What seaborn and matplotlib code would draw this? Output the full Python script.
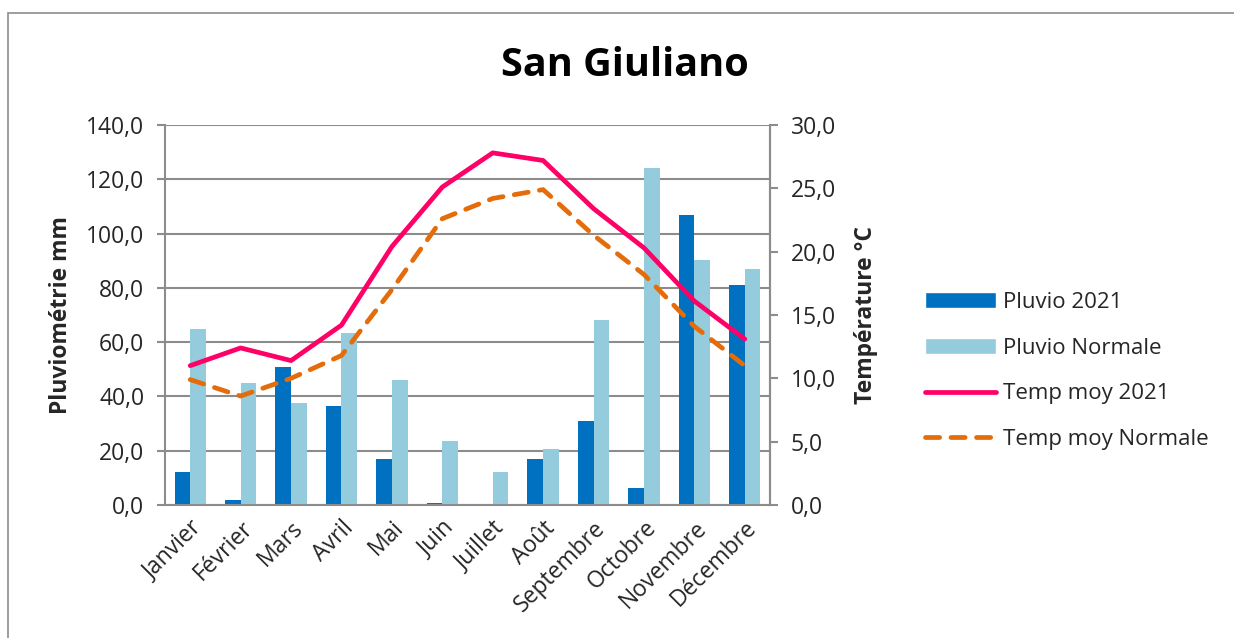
import numpy as np
import pandas as pd
import matplotlib
matplotlib.use("Agg")
import matplotlib.pyplot as plt
import seaborn as sns
from matplotlib.ticker import FuncFormatter, FixedLocator
from matplotlib.patches import Rectangle
from matplotlib.lines import Line2D
from matplotlib.patches import Patch

months = ["Janvier", "Février", "Mars", "Avril", "Mai", "Juin", "Juillet",
          "Août", "Septembre", "Octobre", "Novembre", "Décembre"]
pluvio_2021 = [12.0, 1.8, 50.9, 36.4, 16.8, 0.6, 0.0, 16.8, 30.8, 6.4, 107.0, 81.2]
pluvio_normale = [65.0, 44.8, 37.4, 63.2, 46.0, 23.7, 12.3, 20.5, 68.0, 124.3, 90.2, 87.0]
temp_2021 = [11.0, 12.4, 11.4, 14.2, 20.4, 25.1, 27.8, 27.2, 23.4, 20.3, 16.1, 13.1]
temp_normale = [9.9, 8.6, 10.0, 11.8, 17.0, 22.6, 24.2, 24.9, 21.3, 18.2, 14.1, 11.0]
series_labels = ["Pluvio 2021", "Pluvio Normale", "Temp moy 2021", "Temp moy Normale"]

sns.set_style("white")
plt.rcParams['font.family'] = ['Open Sans', 'DejaVu Sans']

C_DARK = "#0070C0"
C_LIGHT = "#94CCDE"
C_PINK = "#FF0066"
C_ORANGE = "#E46C0A"
GRID = "#8C8C8C"
FS = 16.5
LW = 3.4
DASH = (0, (3.0, 2.4))

df = pd.DataFrame({
    "mois": months * 2,
    "pluvio": pluvio_2021 + pluvio_normale,
    "serie": [series_labels[0]] * 12 + [series_labels[1]] * 12,
})

fig = plt.figure(figsize=(12.34, 6.38), dpi=100)
fig.patch.set_facecolor("white")
ax = fig.add_axes([165 / 1234, 1 - 505 / 638, (770 - 165) / 1234, (505 - 125) / 638])

sns.barplot(data=df, x="mois", y="pluvio", hue="serie", order=months,
            palette=[C_DARK, C_LIGHT], width=0.62, ax=ax, legend=False,
            edgecolor="none", saturation=1)
ax.set_ylim(0, 140)
ax.set_xlim(-0.5, 11.5)
ax.yaxis.set_major_locator(FixedLocator(np.arange(0, 141, 20)))
fmt = FuncFormatter(lambda v, p: f"{v:.1f}".replace(".", ","))
ax.yaxis.set_major_formatter(fmt)
ax.grid(axis="y", color=GRID, lw=1.5)
ax.set_axisbelow(True)
ax.spines["top"].set_visible(False)
for s in ["left", "bottom", "right"]:
    ax.spines[s].set_color(GRID)
    ax.spines[s].set_linewidth(1.5)
ax.tick_params(axis="y", direction="out", length=6, width=1.5, color=GRID,
               labelsize=FS, pad=9, left=True)
ax.set_xticks(range(12))
ax.set_xticklabels(months, rotation=45, ha="right", rotation_mode="anchor", fontsize=FS)
ax.tick_params(axis="x", which="major", length=0, pad=8)
ax.set_xticks(np.arange(-0.5, 12, 1), minor=True)
ax.tick_params(axis="x", which="minor", direction="out", length=6, width=1.5, color=GRID)
ax.set_xlabel("")
ax.set_ylabel("Pluviométrie mm", fontsize=FS, fontweight="bold", labelpad=9)

ax2 = ax.twinx()
x = np.arange(len(months))
sns.lineplot(x=x, y=temp_2021, ax=ax2, color=C_PINK, lw=LW, legend=False)
sns.lineplot(x=x, y=temp_normale, ax=ax2, color=C_ORANGE, lw=LW, legend=False,
             linestyle=DASH, dash_capstyle="round")
ax2.set_ylim(0, 30)
ax2.yaxis.set_major_locator(FixedLocator(np.arange(0, 31, 5)))
ax2.yaxis.set_major_formatter(fmt)
ax2.tick_params(axis="y", direction="out", length=6, width=1.5, color=GRID,
                labelsize=FS, pad=9, right=True)
for s in ["top", "left", "bottom"]:
    ax2.spines[s].set_visible(False)
ax2.spines["right"].set_color(GRID)
ax2.spines["right"].set_linewidth(1.5)
ax2.set_ylabel("Température °C", fontsize=FS, fontweight="bold", labelpad=13)
ax2.grid(False)

fig.text(625 / 1234, 1 - 66 / 638, "San Giuliano", ha="center", va="center",
         fontsize=28.5, fontweight="bold", color="black")

handles = [Patch(facecolor=C_DARK), Patch(facecolor=C_LIGHT),
           Line2D([], [], color=C_PINK, lw=LW, solid_capstyle="round"),
           Line2D([], [], color=C_ORANGE, lw=LW, linestyle=DASH, dash_capstyle="round")]
fig.legend(handles, series_labels, loc="center left",
           bbox_to_anchor=(905 / 1234, 1 - 371 / 638), frameon=False,
           fontsize=16, handlelength=3.2, handleheight=0.75, labelspacing=1.12,
           handletextpad=0.3)

fig.patches.append(Rectangle((8 / 1234, -0.05), 1.1, 1 - 13 / 638 + 0.05,
                             transform=fig.transFigure, fill=False,
                             edgecolor="#8C8C8C", lw=1.2))

fig.savefig("out.png", dpi=100, facecolor="white")
